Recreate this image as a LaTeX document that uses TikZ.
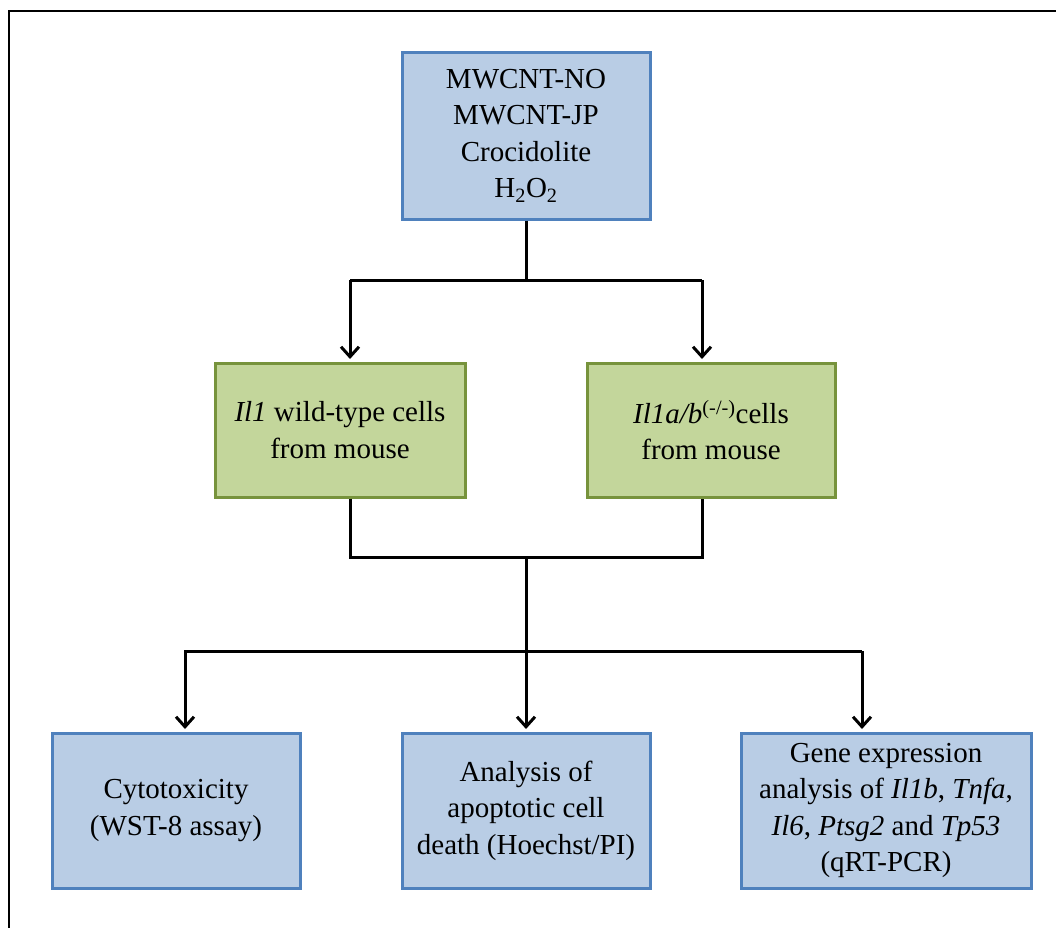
\documentclass[tikz,border=0pt]{standalone}
\usepackage{fontspec}
\setmainfont{Liberation Serif}
\usetikzlibrary{arrows.meta}
\definecolor{bluefill}{HTML}{B9CDE5}
\definecolor{blueline}{HTML}{4F81BD}
\definecolor{greenfill}{HTML}{C3D69B}
\definecolor{greenline}{HTML}{77933C}
\tikzset{
  bluebox/.style={draw=blueline, fill=bluefill, line width=3pt, align=center, inner sep=0pt,
    font=\fontsize{29}{36.5}\selectfont},
  greenbox/.style={draw=greenline, fill=greenfill, line width=3pt, align=center, inner sep=0pt,
    font=\fontsize{29}{36.5}\selectfont},
  conn/.style={draw=black, line width=3pt},
  arr/.style={conn, -{Straight Barb[length=10pt,width=18pt,line width=3pt]}, shorten >=2.5pt},
}
\begin{document}
\begin{tikzpicture}[x=1pt,y=-1pt]
\useasboundingbox (0,0) rectangle (1056,928);
\fill[white] (0,0) rectangle (1056,928);
% outer frame (only top and left edges visible)
\draw[line width=2.6pt] (1056,11) -- (9,11) -- (9,928);

\node[bluebox, minimum width=248pt, minimum height=166pt] (top) at (526,136)
  {MWCNT-NO\\MWCNT-JP\\Crocidolite\\H\textsubscript{2}O\textsubscript{2}};
\node[greenbox, minimum width=250pt, minimum height=134pt] (gl) at (340,430)
  {\textit{Il1} wild-type cells\\from mouse};
\node[greenbox, minimum width=248pt, minimum height=134pt] (gr) at (711,430)
  {\textit{Il1a/b}\textsuperscript{(-/-)}cells\\from mouse};
\node[bluebox, minimum width=248pt, minimum height=155pt] (b1) at (176,810.5)
  {Cytotoxicity\\(WST-8 assay)};
\node[bluebox, minimum width=248pt, minimum height=155pt] (b2) at (526,810.5)
  {Analysis of\\apoptotic cell\\death (Hoechst/PI)};
\node[bluebox, minimum width=290pt, minimum height=155pt] (b3) at (886,810.5)
  {Gene expression\\analysis of \textit{Il1b}, \textit{Tnfa},\\\textit{Il6}, \textit{Ptsg2} and \textit{Tp53}\\(qRT-PCR)};

\coordinate (ja) at (526,280);
\coordinate (jl) at (350,280);
\coordinate (jr) at (702,280);
\draw[conn] (top.south) -- (ja);
\draw[conn] (jl) -- (jr);
\draw[arr] (jl) -- (jl |- gl.north);
\draw[arr] (jr) -- (jr |- gr.north);

\coordinate (kl) at (350,557);
\coordinate (kr) at (702,557);
\coordinate (km) at (526,557);
\draw[conn] (kl |- gl.south) -- (kl) -- (kr) -- (kr |- gr.south);
\draw[arr] (km) -- (km |- b2.north);

\coordinate (ml) at (185,651);
\coordinate (mr) at (862,651);
\draw[arr] (mr) -- (ml) -- (ml |- b1.north);
\draw[arr] (mr) -- (mr |- b3.north);
\end{tikzpicture}
\end{document}
